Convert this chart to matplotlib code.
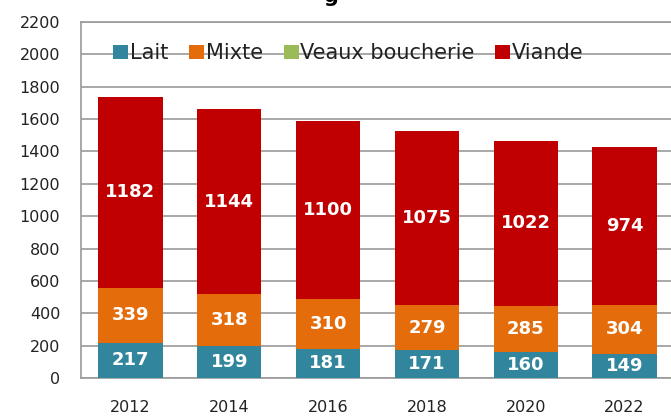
import matplotlib.pyplot as plt
import numpy as np

years = ['2012', '2014', '2016', '2018', '2020', '2022']
lait = [217, 199, 181, 171, 160, 149]
mixte = [339, 318, 310, 279, 285, 304]
veaux = [0, 0, 0, 0, 0, 0]
viande = [1182, 1144, 1100, 1075, 1022, 974]

series = [('Lait', lait, '#31859C'),
          ('Mixte', mixte, '#E46C0A'),
          ('Veaux boucherie', veaux, '#9BBB59'),
          ('Viande', viande, '#C00000')]
label_series = ['Lait', 'Mixte', 'Viande']

fig = plt.figure(figsize=(6.71, 4.16), dpi=100)
ax = fig.add_axes([81 / 671, 38 / 416, 593 / 671, 356 / 416])

x = np.arange(len(years))
bottom = np.zeros(len(years))
for name, vals, col in series:
    vals = np.array(vals, dtype=float)
    ax.bar(x, vals, 0.65, bottom=bottom, color=col, label=name, zorder=3)
    if name in label_series:
        for xi, b, v in zip(x, bottom, vals):
            ax.text(xi, b + v / 2, str(int(v)), ha='center', va='center',
                    color='white', fontsize=13, fontweight='bold', zorder=4)
    bottom += vals

ax.set_xlim(-0.5, 5.5)
ax.set_ylim(0, 2200)
ax.set_yticks(range(0, 2201, 200))
ax.set_xticks(x)
ax.set_xticklabels(years)
ax.grid(axis='y', color='#9a9a9a', linewidth=1.2, zorder=1)
for s in ax.spines.values():
    s.set_color('#9a9a9a')
    s.set_linewidth(1.2)
ax.tick_params(length=0, labelsize=11.5, labelcolor='#222222')
ax.tick_params(axis='x', pad=16)
ax.tick_params(axis='y', pad=15)

ax.legend(loc='center left', bbox_to_anchor=(0.054, 0.912), ncol=4, frameon=False,
          fontsize=15, handlelength=0.72, handleheight=0.72, handletextpad=0.08,
          columnspacing=1.0, borderpad=0, borderaxespad=0, labelcolor='#222222')

fig.text(331 / 671, 1 - 2 / 416, 'g', ha='center', va='baseline',
         fontsize=15, fontweight='bold')

fig.savefig('out.png', dpi=100)
